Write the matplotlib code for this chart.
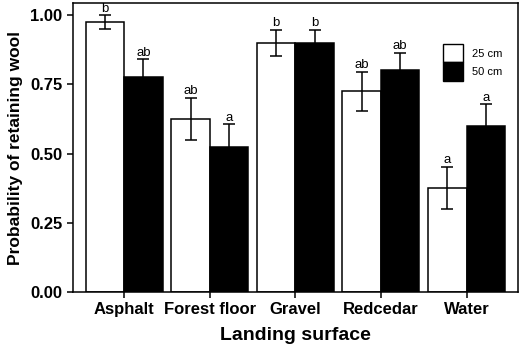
import numpy as np
import matplotlib
matplotlib.use("Agg")
import matplotlib.pyplot as plt
from matplotlib.patches import Patch

plt.rcParams['font.family'] = ['Liberation Sans', 'DejaVu Sans']

surfaces = ["Asphalt", "Forest floor", "Gravel", "Redcedar", "Water"]
p25 = [0.975, 0.625, 0.90, 0.725, 0.375]
p50 = [0.775, 0.525, 0.90, 0.80, 0.60]
se25 = [0.025, 0.077, 0.047, 0.07, 0.077]
se50 = [0.065, 0.08, 0.047, 0.064, 0.077]
letters25 = ["b", "ab", "b", "ab", "a"]
letters50 = ["ab", "a", "b", "ab", "a"]

fig = plt.figure(figsize=(5.2, 3.48), dpi=100)
ax = fig.add_axes([0.140, 0.161, 0.856, 0.830])

x = np.arange(len(surfaces))
w = 0.45
ekw = dict(elinewidth=1.1, capthick=1.1)
ax.bar(x - w/2, p25, w, color="white", edgecolor="black", linewidth=1.1,
       yerr=se25, capsize=4.5, error_kw=ekw, zorder=2)
ax.bar(x + w/2, p50, w, color="black", edgecolor="black", linewidth=1.1,
       yerr=se50, capsize=4.5, error_kw=ekw, zorder=2)

for i in range(len(surfaces)):
    ax.text(x[i] - w/2, p25[i] + se25[i] + 0.012, letters25[i],
            ha="center", va="baseline", fontsize=9.5)
    ax.text(x[i] + w/2, p50[i] + se50[i] + 0.012, letters50[i],
            ha="center", va="baseline", fontsize=9.5)

ax.set_xlim(-0.6, 4.6)
ax.set_ylim(0, 1.043)
ax.set_xticks(x)
ax.set_xticklabels(surfaces, fontsize=12, fontweight="bold")
ax.set_yticks([0, 0.25, 0.5, 0.75, 1.0])
ax.set_yticklabels(["0.00", "0.25", "0.50", "0.75", "1.00"], fontsize=12, fontweight="bold")
ax.tick_params(direction="out", length=4, width=1.1)
for s in ax.spines.values():
    s.set_linewidth(1.1)
ax.set_xlabel("Landing surface", fontsize=14, fontweight="bold", labelpad=7)
ax.set_ylabel("Probability of retaining wool", fontsize=12.5, fontweight="bold", labelpad=5)

handles = [Patch(facecolor="white", edgecolor="black", label="25 cm"),
           Patch(facecolor="black", edgecolor="black", label="50 cm")]
ax.legend(handles=handles, loc="upper left", bbox_to_anchor=(0.831, 0.859),
          frameon=False, fontsize=8, handlelength=1.8, handleheight=2.2,
          labelspacing=0.0, handletextpad=0.8, borderaxespad=0, borderpad=0)

fig.savefig("out.png", dpi=100)
